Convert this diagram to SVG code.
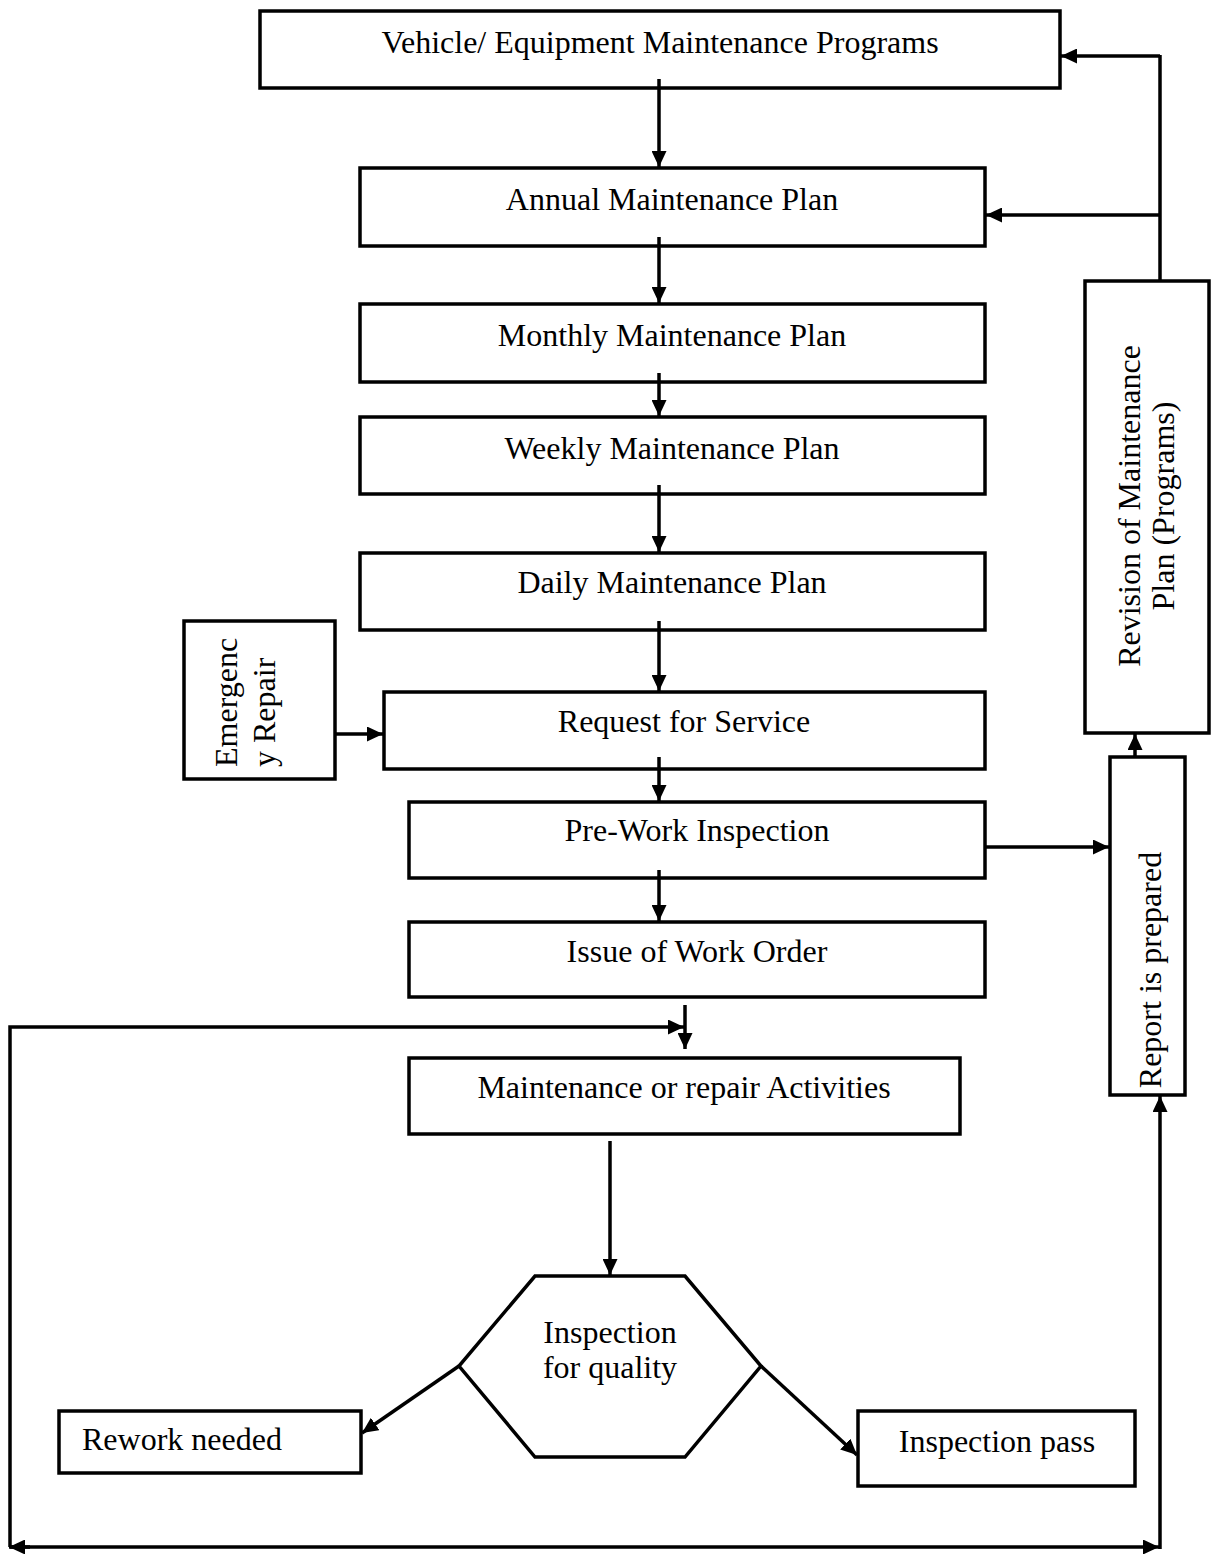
<svg xmlns="http://www.w3.org/2000/svg" width="1213" height="1554" viewBox="0 0 1213 1554">
<style>
.box{fill:#fff;stroke:#000;stroke-width:3.5}
.lbl{font-family:"Liberation Serif","Times New Roman",serif;font-size:32px;fill:#000}
.mid{text-anchor:middle}
.con{fill:none;stroke:#000;stroke-width:3.5}
</style>
<defs>
<marker id="ah" markerUnits="userSpaceOnUse" markerWidth="17" markerHeight="15" refX="16" refY="7.5" orient="auto">
<path d="M0,0 L16,7.5 L0,15 z" fill="#000"/>
</marker>
</defs>
<rect width="1213" height="1554" fill="#fff"/>

<g id="n-programs"><rect class="box" x="260" y="11" width="800" height="77"/><text class="lbl mid" x="660" y="53">Vehicle/ Equipment Maintenance Programs</text></g>
<g id="n-annual"><rect class="box" x="360" y="168" width="625" height="78"/><text class="lbl mid" x="672" y="210">Annual Maintenance Plan</text></g>
<g id="n-monthly"><rect class="box" x="360" y="304" width="625" height="78"/><text class="lbl mid" x="672" y="346">Monthly Maintenance Plan</text></g>
<g id="n-weekly"><rect class="box" x="360" y="417" width="625" height="77"/><text class="lbl mid" x="672" y="459">Weekly Maintenance Plan</text></g>
<g id="n-daily"><rect class="box" x="360" y="553" width="625" height="77"/><text class="lbl mid" x="672" y="593">Daily Maintenance Plan</text></g>
<g id="n-request"><rect class="box" x="384" y="692" width="601" height="77"/><text class="lbl mid" x="684" y="732">Request for Service</text></g>
<g id="n-emergency"><rect class="box" x="184" y="621" width="151" height="158"/><text class="lbl" transform="translate(237,767) rotate(-90)">Emergenc</text><text class="lbl" transform="translate(275,767) rotate(-90)">y Repair</text></g>
<g id="n-prework"><rect class="box" x="409" y="802" width="576" height="76"/><text class="lbl mid" x="697" y="841">Pre-Work Inspection</text></g>
<g id="n-issue"><rect class="box" x="409" y="922" width="576" height="75"/><text class="lbl mid" x="697" y="962">Issue of Work Order</text></g>
<g id="n-maint"><rect class="box" x="409" y="1058" width="551" height="76"/><text class="lbl mid" x="684" y="1098">Maintenance or repair Activities</text></g>
<g id="n-quality"><polygon class="box" points="535,1276 685,1276 761,1366 685,1457 535,1457 459,1366"/><text class="lbl mid" x="610" y="1343">Inspection</text><text class="lbl mid" x="610" y="1378">for quality</text></g>
<g id="n-rework"><rect class="box" x="59" y="1411" width="302" height="62"/><text class="lbl" x="82" y="1450">Rework needed</text></g>
<g id="n-pass"><rect class="box" x="858" y="1411" width="277" height="75"/><text class="lbl mid" x="997" y="1452">Inspection pass</text></g>
<g id="n-report"><rect class="box" x="1110" y="757" width="75" height="338"/><text class="lbl mid" transform="translate(1161,970) rotate(-90)">Report is prepared</text></g>
<g id="n-revision"><rect class="box" x="1085" y="281" width="124" height="452"/><text class="lbl mid" transform="translate(1140,506) rotate(-90)">Revision of Maintenance</text><text class="lbl mid" transform="translate(1174,506) rotate(-90)">Plan (Programs)</text></g>

<g id="connectors">
<line class="con" x1="659" y1="79" x2="659" y2="167" marker-end="url(#ah)"/>
<line class="con" x1="659" y1="237" x2="659" y2="303" marker-end="url(#ah)"/>
<line class="con" x1="659" y1="373" x2="659" y2="416" marker-end="url(#ah)"/>
<line class="con" x1="659" y1="485" x2="659" y2="552" marker-end="url(#ah)"/>
<line class="con" x1="659" y1="621" x2="659" y2="691" marker-end="url(#ah)"/>
<line class="con" x1="659" y1="757" x2="659" y2="801" marker-end="url(#ah)"/>
<line class="con" x1="659" y1="870" x2="659" y2="921" marker-end="url(#ah)"/>
<line class="con" x1="335" y1="734" x2="383" y2="734" marker-end="url(#ah)"/>
<line class="con" x1="985" y1="847" x2="1109" y2="847" marker-end="url(#ah)"/>
<line class="con" x1="1135" y1="757" x2="1135" y2="734" marker-end="url(#ah)"/>
<line class="con" x1="1160" y1="281" x2="1160" y2="55"/>
<line class="con" x1="1160" y1="56" x2="1061" y2="56" marker-end="url(#ah)"/>
<line class="con" x1="1160" y1="215" x2="986" y2="215" marker-end="url(#ah)"/>
<line class="con" x1="685" y1="1005" x2="685" y2="1049" marker-end="url(#ah)"/>
<polyline class="con" points="10,1547 10,1027 684,1027" marker-end="url(#ah)"/>
<line class="con" x1="610" y1="1141" x2="610" y2="1275" marker-end="url(#ah)"/>
<line class="con" x1="459" y1="1366" x2="362" y2="1433" marker-end="url(#ah)"/>
<line class="con" x1="761" y1="1366" x2="857" y2="1455" marker-end="url(#ah)"/>
<line class="con" x1="30" y1="1547" x2="9" y2="1547" marker-end="url(#ah)"/>
<line class="con" x1="10" y1="1547" x2="1159" y2="1547" marker-end="url(#ah)"/>
<line class="con" x1="1160" y1="1549" x2="1160" y2="1096" marker-end="url(#ah)"/>
</g>
</svg>
